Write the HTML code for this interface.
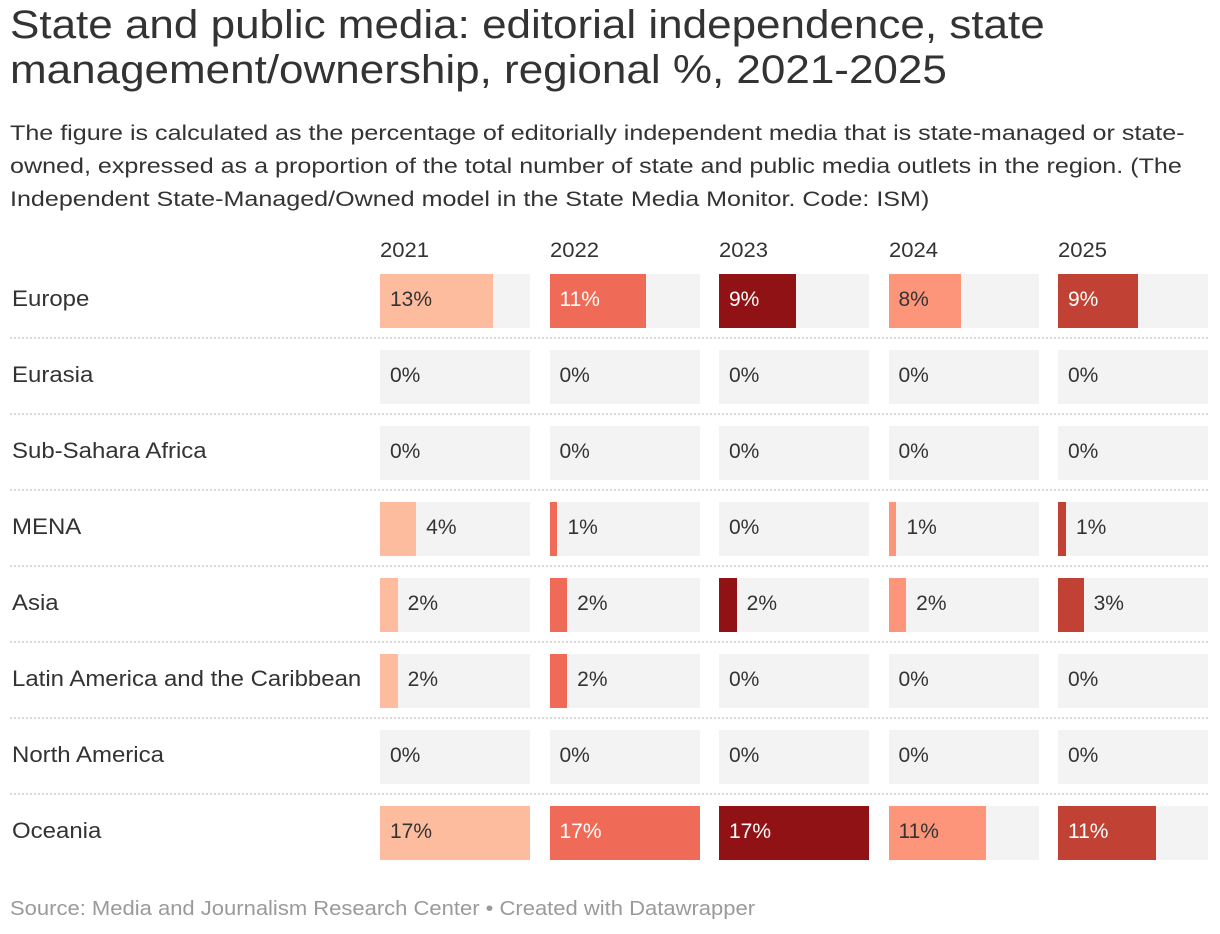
<!DOCTYPE html>
<html><head><meta charset="utf-8"><style>
body{margin:0;background:#fff;width:1220px;height:934px;overflow:hidden;font-family:"Liberation Sans",Arial,sans-serif;color:#333;position:relative}
.abs{position:absolute;white-space:nowrap;transform-origin:0 0}
#title{left:10px;top:3px;font-size:40px;line-height:45px;color:#333;transform:scaleX(1.1)}
#sub{left:10px;top:117px;font-size:21px;line-height:33px;color:#333;transform:scaleX(1.195)}
.year{font-size:21px;top:239px;transform:scaleX(1.05)}
.rl{font-size:22px;left:12px;transform:scaleX(1.09)}
.bg{background:#f3f3f3;position:absolute;height:54px;width:150px}
.bar{position:absolute;height:54px;left:0;top:0}
.val{position:absolute;font-size:21px;top:14px;white-space:nowrap}
.sep{position:absolute;left:10px;width:1198px;border-top:2px dotted #d8d8d8;height:0}
#foot{left:10px;top:898px;font-size:20px;color:#9a9a9a;transform:scaleX(1.1)}
</style></head><body>
<div id="title" class="abs">State and public media: editorial independence, state<br>management/ownership, regional %, 2021-2025</div>
<div id="sub" class="abs">The figure is calculated as the percentage of editorially independent media that is state-managed or state-<br>owned, expressed as a proportion of the total number of state and public media outlets in the region. (The<br>Independent State-Managed/Owned model in the State Media Monitor. Code: ISM)</div>
<div id="chart"></div>
<div id="foot" class="abs">Source: Media and Journalism Research Center • Created with Datawrapper</div>
<script>
const years=["2021","2022","2023","2024","2025"];
const regions=["Europe","Eurasia","Sub-Sahara Africa","MENA","Asia","Latin America and the Caribbean","North America","Oceania"];
const v2021=[12.8,0,0,4.1,2.0,2.0,0,17];
const v2022=[10.9,0,0,0.9,2.0,2.0,0,17];
const v2023=[8.7,0,0,0,2.0,0,0,17];
const v2024=[8.2,0,0,0.9,2.0,0,0,11.1];
const v2025=[9.1,0,0,0.9,2.9,0,0,11.1];
const labels2021=["13%","0%","0%","4%","2%","2%","0%","17%"];
const labels2022=["11%","0%","0%","1%","2%","2%","0%","17%"];
const labels2023=["9%","0%","0%","0%","2%","0%","0%","17%"];
const labels2024=["8%","0%","0%","1%","2%","0%","0%","11%"];
const labels2025=["9%","0%","0%","1%","3%","0%","0%","11%"];
const series=[v2021,v2022,v2023,v2024,v2025];
const labs=[labels2021,labels2022,labels2023,labels2024,labels2025];
const colors=["#febc9f","#ef6b57","#901214","#fd957a","#c14234"];
const inText=["#333","#fff","#fff","#333","#fff"];
const maxV=17, W=150;
const colX=i=>380+i*169.5;
const rowY=r=>274+r*76;
const xs=v=>v/maxV*W;
const c=document.getElementById('chart');
years.forEach((y,i)=>{
  const d=document.createElement('div');d.className='abs year';d.style.left=colX(i)+'px';d.textContent=y;
  
  
  c.appendChild(d);
});
regions.forEach((rg,r)=>{
  const l=document.createElement('div');l.className='abs rl';l.style.top=(rowY(r)+12)+'px';l.textContent=rg;
  
  
  c.appendChild(l);
  if(r<regions.length-1){
    const s=document.createElement('div');s.className='sep';s.style.top=(rowY(r)+63)+'px';
    
    
    c.appendChild(s);
  }
  series.forEach((ser,i)=>{
    const bg=document.createElement('div');bg.className='bg';bg.style.left=colX(i)+'px';bg.style.top=rowY(r)+'px';
    
    
    const w=xs(ser[r]);
    const b=document.createElement('div');b.className='bar';b.style.width=w+'px';b.style.background=colors[i];
    
    
    bg.appendChild(b);
    const t=document.createElement('div');t.className='val';t.textContent=labs[i][r];
    
    
    if(w>50){t.style.left='10px';t.style.color=inText[i];}
    else{t.style.left=(w+10)+'px';t.style.color='#333';}
    bg.appendChild(t);
    c.appendChild(bg);
  });
});
</script>
</body></html>
